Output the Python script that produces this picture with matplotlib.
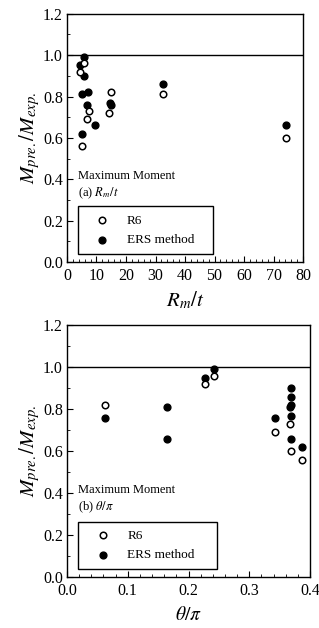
import matplotlib
matplotlib.use("Agg")
import matplotlib.pyplot as plt
from matplotlib.ticker import MultipleLocator

plt.rcParams['font.family'] = ['Liberation Serif', 'DejaVu Serif']
plt.rcParams['mathtext.fontset'] = 'stix'

# (a) versus R_m/t
rt_r6 = [4.4, 5.9, 5.2, 7.5, 6.9, 15.0, 14.3, 32.7, 74.2]
m_r6_a = [0.92, 0.96, 0.56, 0.73, 0.69, 0.82, 0.72, 0.81, 0.60]
rt_ers = [4.4, 5.9, 5.9, 5.2, 7.2, 6.9, 5.0, 9.5, 14.6, 14.9, 32.7, 74.2]
m_ers_a = [0.95, 0.99, 0.90, 0.81, 0.82, 0.76, 0.62, 0.66, 0.77, 0.76, 0.86, 0.66]

# (b) versus theta/pi
th_r6 = [0.063, 0.227, 0.242, 0.342, 0.367, 0.369, 0.387]
m_r6_b = [0.82, 0.92, 0.96, 0.69, 0.73, 0.60, 0.56]
th_ers = [0.063, 0.164, 0.164, 0.227, 0.242, 0.342, 0.369, 0.369, 0.369, 0.367, 0.369, 0.369, 0.387]
m_ers_b = [0.76, 0.81, 0.66, 0.95, 0.99, 0.76, 0.90, 0.86, 0.82, 0.81, 0.77, 0.66, 0.62]

fig = plt.figure(figsize=(3.19, 6.28), dpi=100)
ax1 = fig.add_axes([0.210, 0.583, 0.740, 0.395])
ax2 = fig.add_axes([0.210, 0.081, 0.762, 0.401])

def style(ax, xmax, xmaj, xmin, xfmt):
    ax.set_ylim(0, 1.2)
    ax.set_xlim(0, xmax)
    ax.yaxis.set_major_locator(MultipleLocator(0.2))
    ax.yaxis.set_minor_locator(MultipleLocator(0.1))
    ax.xaxis.set_major_locator(MultipleLocator(xmaj))
    ax.xaxis.set_minor_locator(MultipleLocator(xmin))
    ax.tick_params(which='both', direction='in', top=False, right=False, labelsize=11.5)
    ax.tick_params(which='major', length=4)
    ax.tick_params(which='minor', length=2)
    ax.tick_params(axis='y', which='major', pad=3)
    ax.tick_params(axis='x', which='major', pad=4.5)
    ax.yaxis.set_major_formatter(matplotlib.ticker.FormatStrFormatter('%.1f'))
    ax.xaxis.set_major_formatter(matplotlib.ticker.FormatStrFormatter(xfmt))
    ax.axhline(1.0, color='black', lw=1.0)
    for s in ax.spines.values():
        s.set_linewidth(1.0)
    ax.set_ylabel(r'$M_{pre.}/M_{exp.}$', fontsize=15, labelpad=1)

for ax, xs_o, ys_o, xs_f, ys_f, tag in [
    (ax1, rt_r6, m_r6_a, rt_ers, m_ers_a, r'(a) $R_m/t$'),
    (ax2, th_r6, m_r6_b, th_ers, m_ers_b, r'(b) $\theta/\pi$'),
]:
    ax.scatter(xs_f, ys_f, s=24, facecolor='black', edgecolor='black', linewidth=1.0, zorder=3, label='ERS method')
    ax.scatter(xs_o, ys_o, s=22, facecolor='white', edgecolor='black', linewidth=1.1, zorder=4, label='R6')
    ax.text(0.047, 0.335, 'Maximum Moment', transform=ax.transAxes, fontsize=9)
    ax.text(0.047, 0.265, tag, transform=ax.transAxes, fontsize=9)
    h, l = ax.get_legend_handles_labels()
    leg = ax.legend([h[1], h[0]], [l[1], l[0]], loc='lower left',
                    bbox_to_anchor=(0.047, 0.032, 0.572, 0.18), mode='expand',
                    frameon=True, fancybox=False, edgecolor='black', framealpha=1,
                    fontsize=9.5, handletextpad=0.6, borderaxespad=0, borderpad=0.6,
                    labelspacing=0.55, handlelength=2.5)
    leg.get_frame().set_linewidth(1.0)

style(ax1, 80, 10, 2, '%d')
style(ax2, 0.4, 0.1, 0.02, '%.1f')
ax1.set_xlabel(r'$R_m/t$', fontsize=15, labelpad=4)
ax2.set_xlabel(r'$\theta/\pi$', fontsize=14, labelpad=5)

fig.savefig('out.png', dpi=100)
